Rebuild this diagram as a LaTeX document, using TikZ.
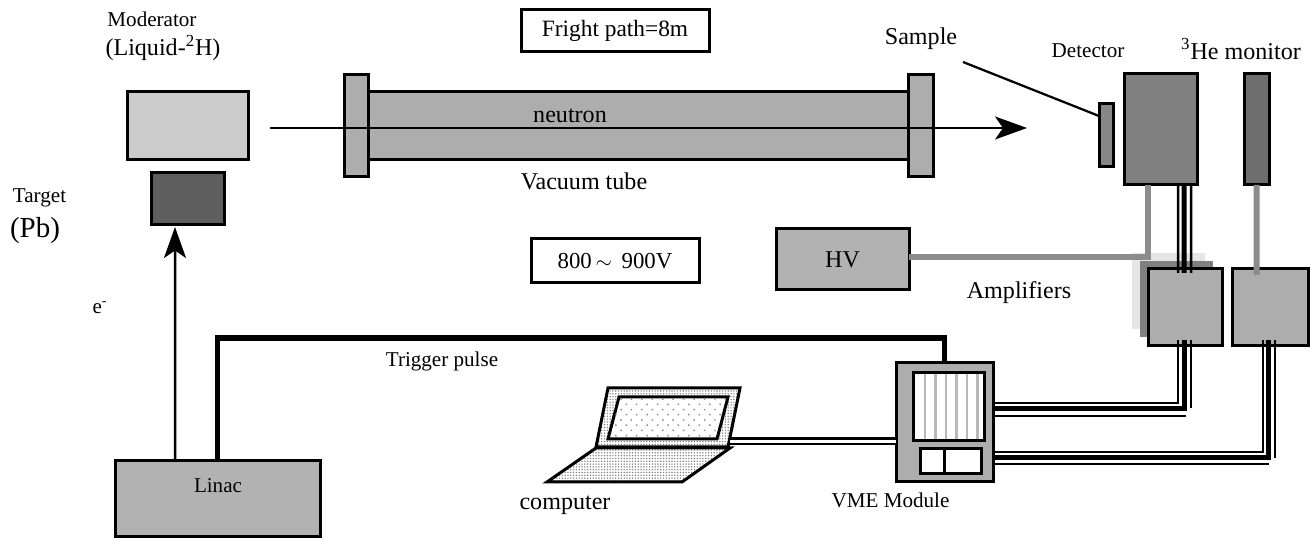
\documentclass[tikz,border=0pt]{standalone}
\usepackage{fontspec}
\setmainfont{Liberation Serif}
\usepackage{tikz}
\usetikzlibrary{arrows.meta}
\usetikzlibrary{calc}
\usetikzlibrary{patterns.meta}
\usetikzlibrary{positioning}
\tikzset{every text node part/.style={align=center}}
\tikzstyle{block} = [draw=black, inner sep=0, outer sep=0, line width=.06cm, font=\fontsize{13.7}{16}\selectfont]
\tikzstyle{txt} = [inner sep=0, font=\fontsize{12}{14}\selectfont]
\tikzstyle{txtbig} = [inner sep=0, font=\fontsize{13.7}{16}\selectfont]
\tikzstyle{grayln} = [draw=black!45, line width=.12cm]
\tikzstyle{thinln} = [draw, line width=.05cm]
\tikzstyle{fatln} = [draw, line width=.1cm]
\begin{document}
\begin{tikzpicture}[]
  \useasboundingbox (0,0) rectangle (26.22,10.8);
  \node[block, fill=black!20, minimum width=2.42cm, minimum height=1.36cm] (moderator) at (3.75,8.28) {};
  \node[block, fill=black!63, minimum width=1.46cm, minimum height=1.04cm, below=2.6mm of moderator] (target) {};
  \node[block, fill=black!32, minimum width=10.8cm, minimum height=1.36cm] (tube) at (12.76,8.28) {};
  \node[block, fill=black!32, minimum width=.48cm, minimum height=2.04cm] (flangel) at (7.12,8.28) {};
  \node[block, fill=black!32, minimum width=.5cm, minimum height=2.04cm] (flanger) at (18.41,8.28) {};
  \node[block, fill=black!47, minimum width=.28cm, minimum height=1.26cm] (sample) at (22.12,8.09) {};
  \node[block, fill=black!50, minimum width=1.46cm, minimum height=2.22cm] (detector) at (23.21,8.21) {};
  \node[block, fill=black!57, minimum width=.5cm, minimum height=2.22cm] (monitor) at (25.13,8.21) {};
  \node[block, minimum width=3.76cm, minimum height=.84cm, font=\fontsize{13.3}{16}\selectfont] (path) at (12.3,10.18) {\raisebox{-2.2pt}{Fright path=8m}};
  \node[block, minimum width=3.36cm, minimum height=.88cm, font=\fontsize{13}{16}\selectfont] (volt) at (12.3,5.58) {\raisebox{-2.6pt}{800\,$\sim$\, 900V}};
  \node[block, fill=black!30, minimum width=2.66cm, minimum height=1.22cm] (hv) at (16.85,5.61) {HV};
  % amplifiers with their two offset copies
  \node[fill=black!10, minimum width=1.46cm, minimum height=1.52cm, inner sep=0] (amplight) at (23.37,4.98) {};
  \node[fill=black!50, minimum width=1.46cm, minimum height=1.52cm, inner sep=0] (ampdark) at (23.53,4.82) {};
  \node[block, fill=black!32, minimum width=1.48cm, minimum height=1.54cm] (amp) at (23.7,4.65) {};
  \node[block, fill=black!32, minimum width=1.52cm, minimum height=1.54cm] (ampb) at (25.4,4.65) {};
  \node[block, fill=black!32, minimum width=1.94cm, minimum height=2.38cm] (vme) at (18.89,2.35) {};
  \node[block, fill=white, minimum width=1.42cm, minimum height=1.36cm] (rack) at (18.97,2.66) {};
  \node[block, fill=white, minimum width=.48cm, minimum height=.5cm] (vmea) at (18.64,1.57) {};
  \node[block, fill=white, minimum width=.74cm, minimum height=.5cm] (vmeb) at (19.25,1.57) {};
  \node[block, fill=black!30, minimum width=4.1cm, minimum height=1.52cm] (linac) at (4.35,.82) {};
  \foreach \s in {-.47,-.26,-.05,.16,.37,.58}
    \draw[draw=black!28, line width=.05cm] ([xshift=\s cm, yshift=.03cm]rack.south) -- ([xshift=\s cm, yshift=-.03cm]rack.north);

  % laptop
  \draw[line width=.06cm, pattern={Dots[distance=1.6pt, radius=.45pt]}, pattern color=black!50] (11.92,1.84) -- (14.6,1.84) -- (13.64,1.16) -- (10.94,1.16) -- cycle;
  \draw[line width=.06cm, pattern={Dots[distance=1.6pt, radius=.45pt]}, pattern color=black!50] (12.16,3.04) -- (14.8,3.04) -- (14.56,1.86) -- (11.92,1.86) -- cycle;
  \draw[line width=.06cm, fill=white] (12.38,2.86) -- (14.56,2.86) -- (14.34,2.02) -- (12.16,2.02) -- cycle;
  \fill[pattern={Dots[distance=4.2pt, radius=.6pt, angle=45]}, pattern color=black!45] (12.38,2.83) -- (14.53,2.83) -- (14.32,2.05) -- (12.2,2.05) -- cycle;
  \coordinate (lapjack) at (14.6,1.97);
  \draw[line width=.045cm, double, double distance=.07cm] (lapjack) -- (lapjack -| vme.west);

  % beam and electron line
  \coordinate (beamin) at (5.4,8.24);
  \coordinate (beamout) at (20.54,8.24);
  \draw[line width=.045cm, -{Stealth[length=.64cm, width=.46cm, inset=.16cm]}] (beamin) -- (beamout);
  \draw[line width=.05cm, -{Stealth[length=.62cm, width=.44cm, inset=.15cm]}] ([xshift=-.85cm]linac.north) -- ([xshift=-.25cm, yshift=-.04cm]target.south);
  \coordinate (samplein) at (19.26,9.56);
  \draw[line width=.045cm] (samplein) -- ([yshift=.39cm]sample.west);
  \coordinate (trigtop) at (10,4.04);
  \draw[line width=.11cm] (linac.north) -- (linac.north |- trigtop) -| (vme.north);

  % high voltage
  \draw[grayln] ([yshift=.05cm]hv.east) -| ([xshift=-.25cm]detector.south);
  \draw[grayln] (monitor.south) -- ([xshift=-.27cm, yshift=-.12cm]ampb.north);

  % signal cables
  \draw[thinln] ([xshift=3.5mm]detector.south) -- ([xshift=-1.4mm, yshift=-.08cm]amp.north);
  \draw[fatln] ([xshift=4.7mm]detector.south) -- ([xshift=-.2mm, yshift=-.08cm]amp.north);
  \draw[thinln] ([xshift=6.1mm]detector.south) -- ([xshift=1.2mm, yshift=-.08cm]amp.north);
  \draw[thinln] ([xshift=-1.4mm, yshift=.12cm]amp.south) |- ([yshift=.39cm]vme.east);
  \draw[fatln] ([xshift=-.2mm, yshift=.12cm]amp.south) |- ([yshift=.27cm]vme.east);
  \draw[thinln] ([xshift=1.2mm, yshift=.12cm]amp.south) -- ++(0,-1.36);
  \draw[thinln] ([yshift=.13cm]vme.east) -- ++(3.86,0);
  \draw[thinln] ([xshift=-1.4mm, yshift=.12cm]ampb.south) |- ([yshift=-.59cm]vme.east);
  \draw[fatln] ([xshift=-.4mm, yshift=.12cm]ampb.south) |- ([yshift=-.71cm]vme.east);
  \draw[thinln] ([xshift=1mm, yshift=.12cm]ampb.south) -- ++(0,-2.36);
  \draw[thinln] ([yshift=-.83cm]vme.east) -- ++(5.52,0);

  % labels
  \node[txt] (lblmod) at (3.04,10.42) {Moderator};
  \node[txtbig] (lblliq) at (3.26,9.84) {(Liquid-\textsuperscript{2}H)};
  \node[txt] (lbltarget) at (.79,6.84) {Target};
  \node[inner sep=0, font=\fontsize{16.5}{18}\selectfont] (lblpb) at (.7,6.18) {(Pb)};
  \node[txt] (lble) at (2,4.64) {e\textsuperscript{-}};
  \node[txtbig] (lblneutron) at (11.4,8.48) {neutron};
  \node[txtbig] (lbltube) at (11.68,7.18) {Vacuum tube};
  \node[txtbig] (lblsample) at (18.42,10.02) {Sample};
  \node[txt] (lbldet) at (21.76,9.78) {Detector};
  \node[txtbig] (lblmon) at (24.82,9.82) {\textsuperscript{3}He monitor};
  \node[txtbig] (lblamp) at (20.38,4.94) {Amplifiers};
  \node[txt] (lbltrig) at (8.84,3.58) {Trigger pulse};
  \node[txt] (lbllinac) at (4.36,1.08) {Linac};
  \node[txt] (lblvme) at (17.81,.8) {VME Module};
  \node[txtbig] (lblcomp) at (11.3,.7) {computer};
\end{tikzpicture}
\end{document}
